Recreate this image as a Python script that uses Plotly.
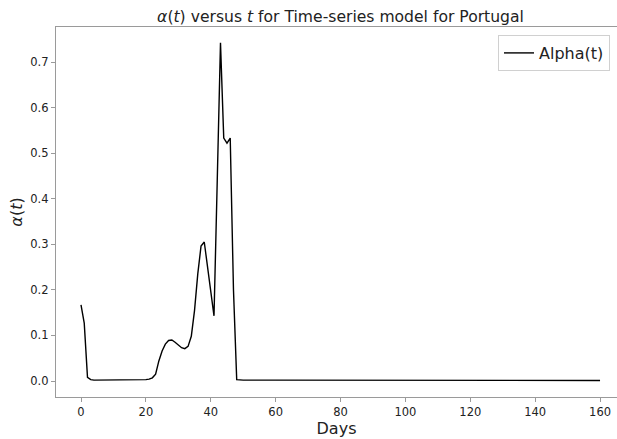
import plotly.graph_objects as go

days = list(range(0, 49)) + [50, 60, 70, 80, 90, 100, 110, 120, 130, 140, 150, 160]
alpha = [
    0.167, 0.127, 0.008, 0.003, 0.002, 0.002, 0.002, 0.002, 0.002, 0.002,
    0.002, 0.002, 0.002, 0.002, 0.002, 0.002, 0.002, 0.002, 0.002, 0.002,
    0.003, 0.004, 0.007, 0.015, 0.044, 0.066, 0.081, 0.089, 0.090, 0.085,
    0.078, 0.073, 0.071, 0.076, 0.098, 0.155, 0.235, 0.296, 0.305, 0.250,
    0.190, 0.143, 0.440, 0.742, 0.533, 0.522, 0.533, 0.200, 0.003,
    0.002, 0.002, 0.002, 0.002, 0.002, 0.002, 0.001, 0.001, 0.001, 0.001, 0.001, 0.001,
]
x_ticks = [0, 20, 40, 60, 80, 100, 120, 140, 160]
y_ticks = [0.0, 0.1, 0.2, 0.3, 0.4, 0.5, 0.6, 0.7]

FONT = "DejaVu Sans"
SPINE = "#9a9a9a"
TXT = "#222222"

fig = go.Figure()
fig.add_trace(go.Scatter(x=days, y=alpha, mode="lines", name="Alpha(t)",
                         line=dict(color="black", width=1.4)))

fig.update_layout(
    width=617, height=439,
    margin=dict(l=56, r=0, t=27, b=42),
    paper_bgcolor="white", plot_bgcolor="white",
    font=dict(family=FONT, color=TXT, size=12),
    title=dict(text="<i>α</i>(<i>t</i>) versus <i>t</i> for Time-series model for Portugal",
               x=340.5 / 617, xref="container", xanchor="center",
               y=1 - 16.5 / 439, yref="container", yanchor="middle",
               font=dict(family=FONT, size=15.6, color=TXT)),
    showlegend=True,
    legend=dict(x=(498 - 56) / 561, y=1 - (35 - 27) / 370, xanchor="left", yanchor="top",
                bgcolor="white", bordercolor="#d0d0d0", borderwidth=1,
                font=dict(family=FONT, size=16, color=TXT)),
    xaxis=dict(range=[-25 / 3.244, (617 - 81) / 3.244], tickvals=x_ticks,
               ticktext=[str(v) for v in x_ticks],
               showgrid=False, zeroline=False, showline=True, linecolor=SPINE, linewidth=1.2,
               mirror=True, ticks="outside", ticklen=4, tickcolor=SPINE, tickwidth=1,
               tickfont=dict(size=11.5, family=FONT, color=TXT),
               title=dict(text="Days", font=dict(size=16, family=FONT, color=TXT), standoff=3)),
    yaxis=dict(range=[-0.0351, 0.7768], tickvals=y_ticks,
               ticktext=[f"{v:.1f}" for v in y_ticks],
               showgrid=False, zeroline=False, showline=True, linecolor=SPINE, linewidth=1.2,
               mirror=False, ticks="outside", ticklen=4, tickcolor=SPINE, tickwidth=1,
               tickfont=dict(size=11.5, family=FONT, color=TXT),
               title=dict(text="<i>α</i>(<i>t</i>)", font=dict(size=16, family=FONT, color=TXT), standoff=3)),
)

fig.write_html("out.html")
